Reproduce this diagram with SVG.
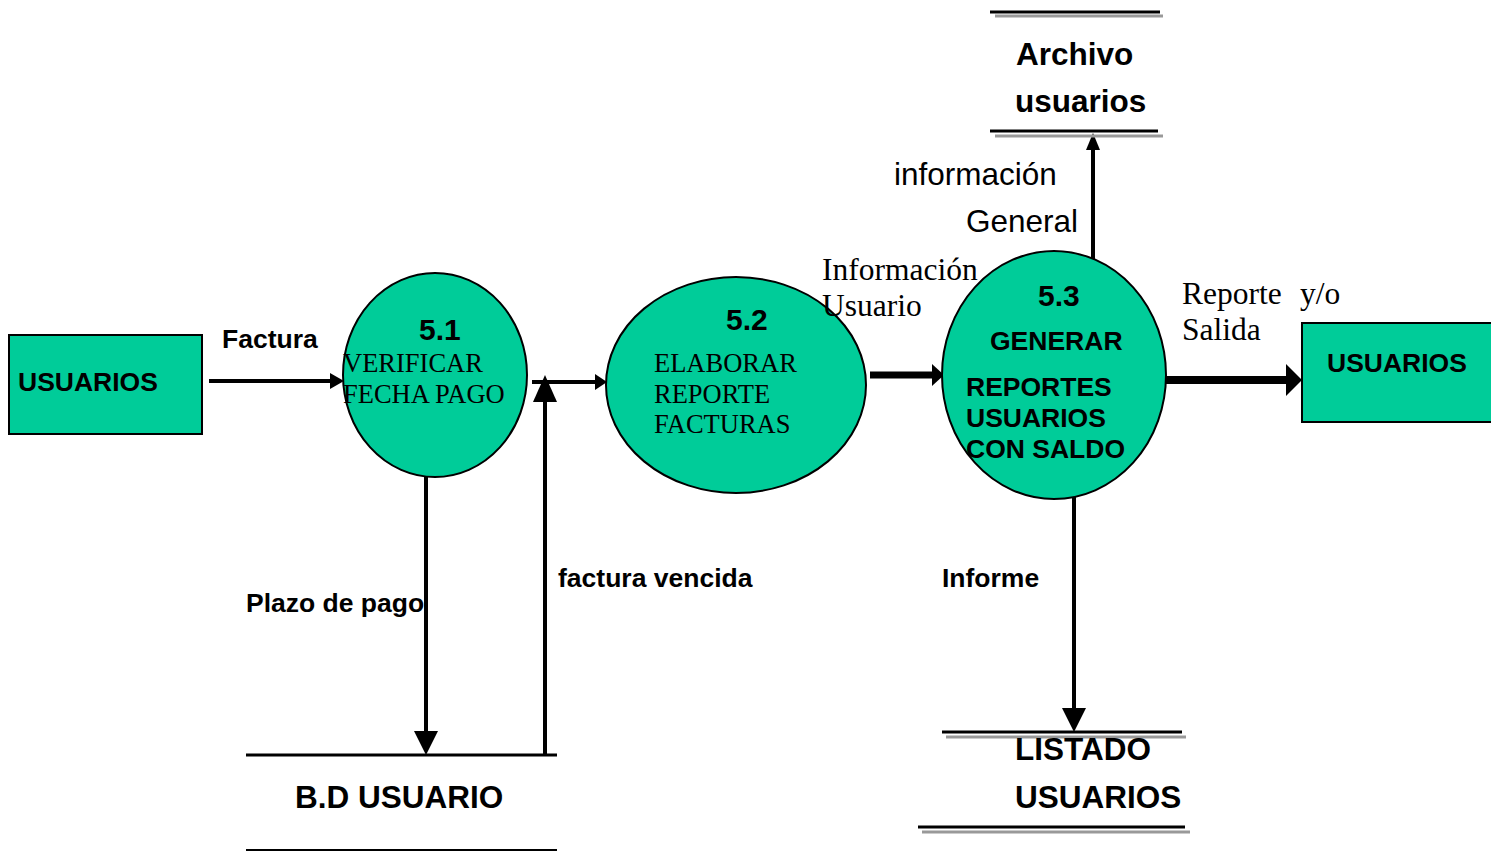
<svg xmlns="http://www.w3.org/2000/svg" width="1491" height="851" viewBox="0 0 1491 851">
<style>
.bub{fill:#00CC99;stroke:#000;stroke-width:2}
.box{fill:#00CC99;stroke:#000;stroke-width:2}
.b{font-family:"Liberation Sans",Arial,sans-serif;font-weight:bold;fill:#000}
.r{font-family:"Liberation Sans",Arial,sans-serif;fill:#000}
.t{font-family:"Liberation Serif","Times New Roman",serif;fill:#000}
.s{font-size:26.5px}
.l{font-size:31.5px}
.ln{stroke:#000;fill:none}
.gr{stroke:#999;fill:none}
.ah{fill:#000}
</style>
<rect width="1491" height="851" fill="#fff"/>

<g id="connectors">
  <line class="ln" x1="209" y1="381" x2="333" y2="381" stroke-width="4"/>
  <polygon class="ah" points="344,381 330,373 330,389"/>
  <line class="ln" x1="532" y1="382" x2="598" y2="382" stroke-width="4"/>
  <polygon class="ah" points="607,382 595,374 595,390"/>
  <line class="ln" x1="426" y1="467" x2="426" y2="735" stroke-width="4"/>
  <polygon class="ah" points="426,755 414,731 438,731"/>
  <line class="ln" x1="545" y1="755" x2="545" y2="398" stroke-width="4"/>
  <polygon class="ah" points="545,375 533,402 557,402"/>
  <line class="ln" x1="870" y1="375" x2="934" y2="375" stroke-width="7"/>
  <polygon class="ah" points="944,375 932,364 932,386"/>
  <line class="ln" x1="1157" y1="380" x2="1288" y2="380" stroke-width="8"/>
  <polygon class="ah" points="1302,380 1286,364 1286,396"/>
  <line class="ln" x1="1093" y1="263" x2="1093" y2="146" stroke-width="4"/>
  <polygon class="ah" points="1093,133 1086,150 1100,150"/>
  <line class="ln" x1="1074" y1="492" x2="1074" y2="712" stroke-width="4"/>
  <polygon class="ah" points="1074,732 1062,708 1086,708"/>
</g>

<g id="usuarios-in">
  <rect class="box" x="9" y="335" width="193" height="99"/>
  <text class="b s" x="18" y="391">USUARIOS</text>
</g>

<g id="p51">
  <ellipse class="bub" cx="435" cy="375" rx="92" ry="102"/>
  <text class="b" font-size="30" x="419" y="340">5.1</text>
  <text class="t" font-size="26.5" x="343" y="372">VERIFICAR</text>
  <text class="t" font-size="26.5" x="343" y="403">FECHA PAGO</text>
</g>

<g id="p52">
  <ellipse class="bub" cx="736" cy="385" rx="130" ry="108"/>
  <text class="b" font-size="30" x="726" y="330">5.2</text>
  <text class="t" font-size="26.5" x="654" y="372">ELABORAR</text>
  <text class="t" font-size="26.5" x="654" y="403">REPORTE</text>
  <text class="t" font-size="26.5" x="654" y="433">FACTURAS</text>
</g>

<g id="p53">
  <ellipse class="bub" cx="1054" cy="375" rx="112" ry="124"/>
  <text class="b" font-size="30" x="1038" y="306">5.3</text>
  <text class="b s" x="990" y="350">GENERAR</text>
  <text class="b s" x="966" y="396">REPORTES</text>
  <text class="b s" x="966" y="427">USUARIOS</text>
  <text class="b s" x="966" y="458">CON SALDO</text>
</g>

<g id="usuarios-out">
  <rect class="box" x="1302" y="323" width="192" height="99"/>
  <text class="b s" x="1327" y="372">USUARIOS</text>
</g>

<g id="archivo">
  <line class="gr" x1="995" y1="16" x2="1163" y2="16" stroke-width="3"/>
  <line class="ln" x1="990" y1="12" x2="1160" y2="12" stroke-width="3"/>
  <line class="gr" x1="995" y1="136" x2="1163" y2="136" stroke-width="3"/>
  <line class="ln" x1="990" y1="131" x2="1158" y2="131" stroke-width="3"/>
  <text class="b l" x="1016" y="65">Archivo</text>
  <text class="b l" x="1015" y="112">usuarios</text>
</g>

<g id="listado">
  <line class="gr" x1="946" y1="737" x2="1186" y2="737" stroke-width="3"/>
  <line class="ln" x1="942" y1="732" x2="1182" y2="732" stroke-width="3"/>
  <line class="gr" x1="922" y1="832" x2="1190" y2="832" stroke-width="3"/>
  <line class="ln" x1="918" y1="827" x2="1185" y2="827" stroke-width="3"/>
  <text class="b l" x="1015" y="760">LISTADO</text>
  <text class="b l" x="1015" y="808">USUARIOS</text>
</g>

<g id="bd-usuario">
  <line class="ln" x1="246" y1="755" x2="557" y2="755" stroke-width="3"/>
  <line class="ln" x1="246" y1="850" x2="557" y2="850" stroke-width="2"/>
  <text class="b l" x="295" y="808">B.D USUARIO</text>
</g>

<g id="labels">
  <text class="b s" x="222" y="348">Factura</text>
  <text class="b s" x="246" y="612">Plazo de pago</text>
  <text class="b s" x="558" y="587">factura vencida</text>
  <text class="b s" x="942" y="587">Informe</text>
  <text class="t" font-size="31.5" x="822" y="280">Información</text>
  <text class="t" font-size="31.5" x="822" y="316">Usuario</text>
  <text class="r" font-size="31.5" x="894" y="185">información</text>
  <text class="r" font-size="31.5" x="966" y="232">General</text>
  <text class="t" font-size="31.5" x="1182" y="304">Reporte</text>
  <text class="t" font-size="31.5" x="1300" y="304">y/o</text>
  <text class="t" font-size="31.5" x="1182" y="340">Salida</text>
</g>
</svg>
